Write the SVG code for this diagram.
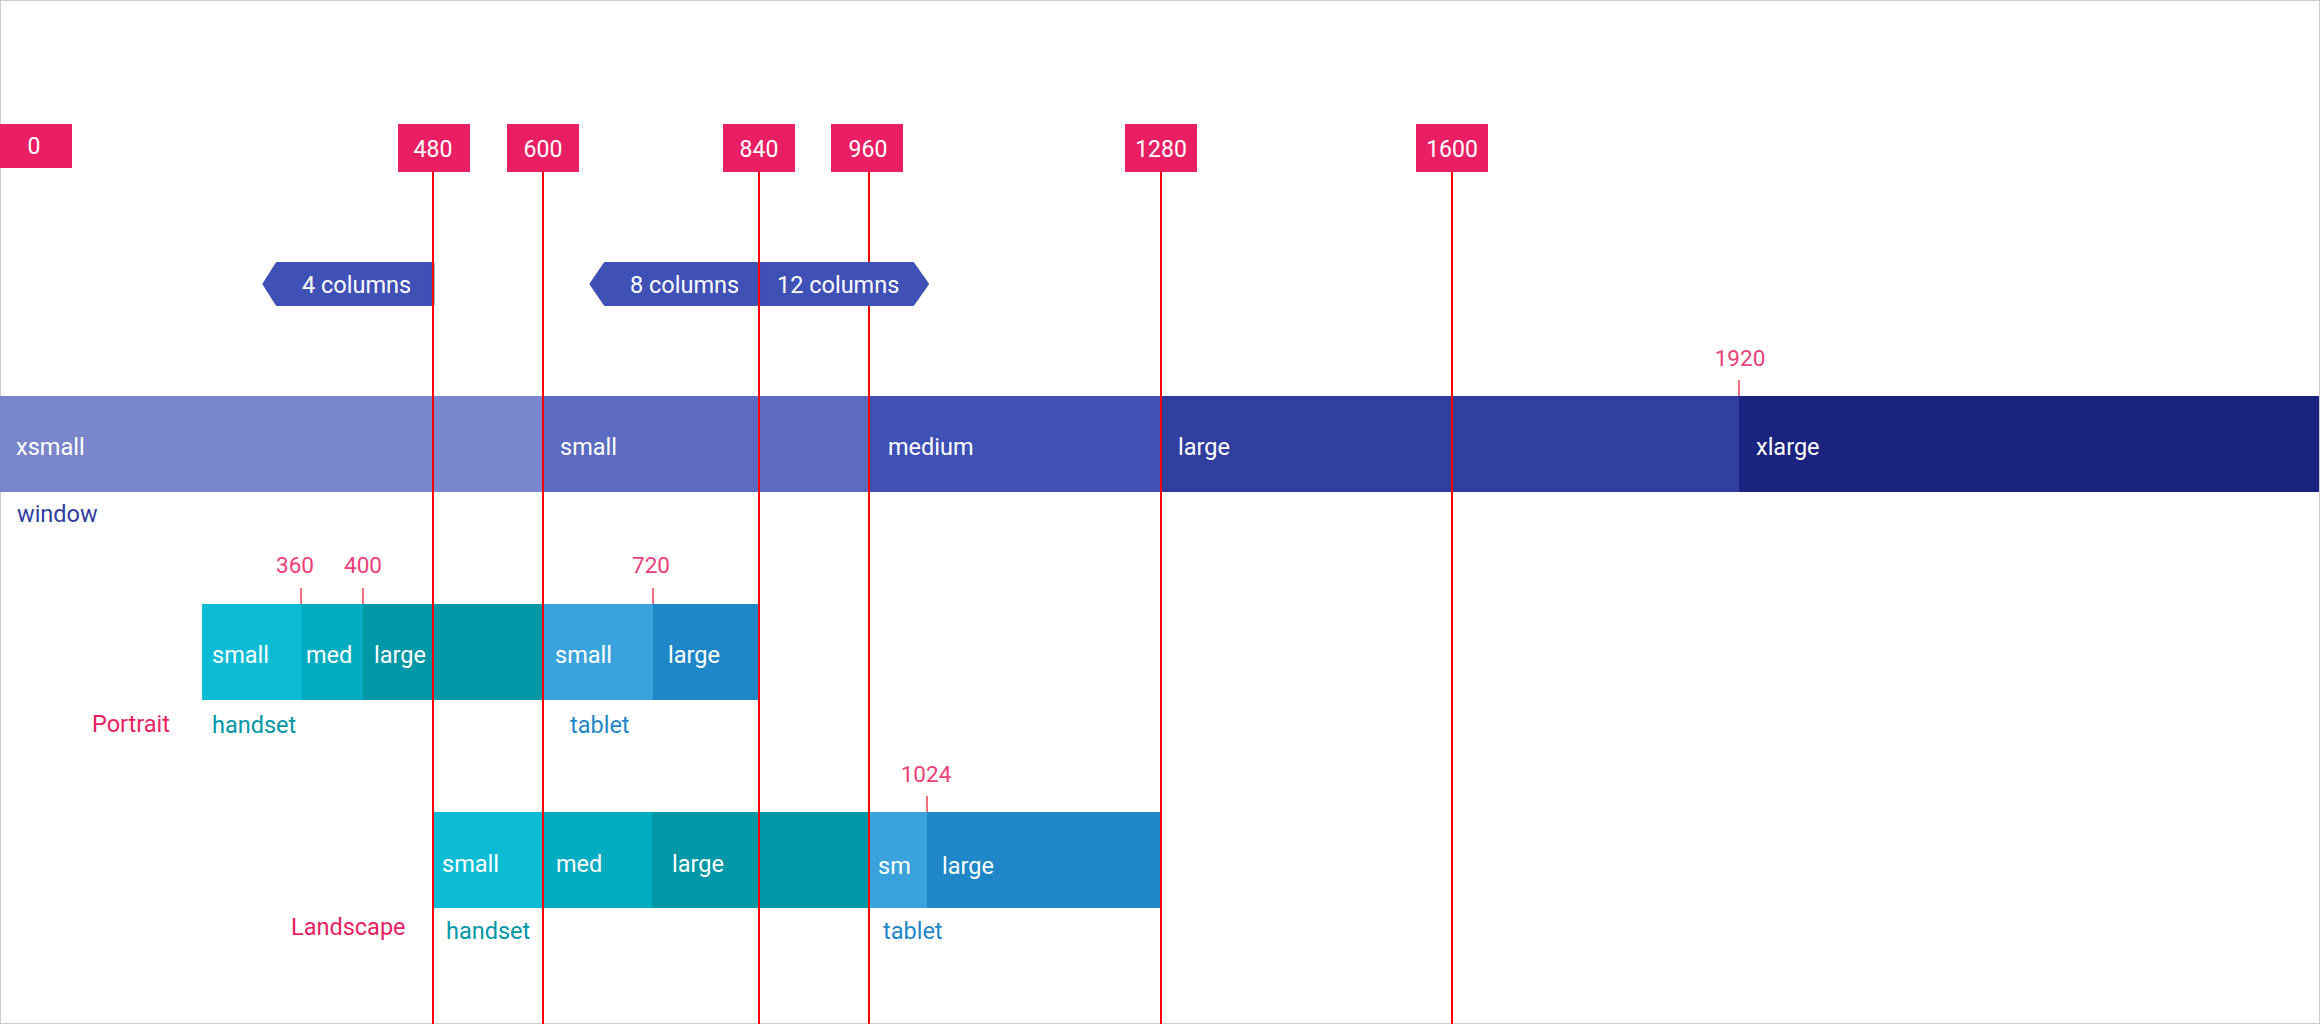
<svg xmlns="http://www.w3.org/2000/svg" width="2320" height="1024" viewBox="0 0 2320 1024">
<style>
text{font-family:Roboto,"Liberation Sans",sans-serif;font-size:23.5px}
.w{fill:#FFFFFF}
.num{fill:#FFFFFF;text-anchor:middle;font-size:23px}
.bp{fill:#E91E63}
.mk{fill:#EC407A;text-anchor:middle;font-size:22.5px}
.tick{stroke:#F26F7E;stroke-width:2}
.rl{stroke:#FF0000;stroke-width:2;fill:none}
.hex{fill:#3F51B5;stroke:#3F51B5;stroke-width:3;stroke-linejoin:round}
</style>
<rect x="0.5" y="0.5" width="2319" height="1023" fill="#FFFFFF" stroke="#CCCCCC" stroke-width="1"/>

<g id="bp-0"><rect class="bp" x="0" y="124" width="72" height="44"/><text class="num" x="34" y="154">0</text></g>
<g id="bp-480"><rect class="bp" x="398" y="124" width="72" height="48"/><text class="num" x="433" y="157">480</text></g>
<g id="bp-600"><rect class="bp" x="507" y="124" width="72" height="48"/><text class="num" x="543" y="157">600</text></g>
<g id="bp-840"><rect class="bp" x="723" y="124" width="72" height="48"/><text class="num" x="759" y="157">840</text></g>
<g id="bp-960"><rect class="bp" x="831" y="124" width="72" height="48"/><text class="num" x="868" y="157">960</text></g>
<g id="bp-1280"><rect class="bp" x="1125" y="124" width="72" height="48"/><text class="num" x="1161" y="157">1280</text></g>
<g id="bp-1600"><rect class="bp" x="1416" y="124" width="72" height="48"/><text class="num" x="1452" y="157">1600</text></g>

<g id="cols-4"><path class="hex" d="M264,284 L277,263.5 L433,263.5 L433,304.5 L277,304.5 Z"/><text class="w" x="302" y="292.5">4 columns</text></g>
<g id="cols-8"><path class="hex" d="M591,284 L605,263.5 L759,263.5 L759,304.5 L605,304.5 Z"/><text class="w" x="630" y="292.5">8 columns</text></g>
<g id="cols-12"><path class="hex" d="M759,263.5 L913,263.5 L927.5,284 L913,304.5 L759,304.5 Z"/><text class="w" x="777" y="292.5">12 columns</text></g>

<g id="window">
<rect x="0" y="396" width="543" height="96" fill="#7986CB"/>
<rect x="543" y="396" width="326" height="96" fill="#5C6BC0"/>
<rect x="869" y="396" width="292" height="96" fill="#3F51B5"/>
<rect x="1161" y="396" width="578" height="96" fill="#303F9F"/>
<rect x="1739" y="396" width="580" height="96" fill="#1A237E"/>
<text class="w" x="16" y="455">xsmall</text>
<text class="w" x="560" y="455">small</text>
<text class="w" x="888" y="455">medium</text>
<text class="w" x="1178" y="455">large</text>
<text class="w" x="1756" y="455">xlarge</text>
<line class="tick" x1="1739" y1="380" x2="1739" y2="396"/>
<text class="mk" x="1740" y="366">1920</text>
<text x="17" y="522" fill="#303F9F">window</text>
</g>

<g id="portrait">
<rect x="202" y="604" width="99" height="96" fill="#0BBCD4"/>
<rect x="301" y="604" width="62" height="96" fill="#03ACC1"/>
<rect x="363" y="604" width="180" height="96" fill="#0097A7"/>
<rect x="543" y="604" width="110" height="96" fill="#3BA3DC"/>
<rect x="653" y="604" width="106" height="96" fill="#1F87C7"/>
<text class="w" x="212" y="663">small</text>
<text class="w" x="306" y="663">med</text>
<text class="w" x="374" y="663">large</text>
<text class="w" x="555" y="663">small</text>
<text class="w" x="668" y="663">large</text>
<line class="tick" x1="301" y1="588" x2="301" y2="604"/>
<line class="tick" x1="363" y1="588" x2="363" y2="604"/>
<line class="tick" x1="653" y1="588" x2="653" y2="604"/>
<text class="mk" x="295" y="573">360</text>
<text class="mk" x="363" y="573">400</text>
<text class="mk" x="651" y="573">720</text>
<text x="92" y="732" fill="#E91E63">Portrait</text>
<text x="212" y="733" fill="#0097A7">handset</text>
<text x="570" y="733" fill="#1F87C7">tablet</text>
</g>

<g id="landscape">
<rect x="433" y="812" width="110" height="96" fill="#0BBCD4"/>
<rect x="543" y="812" width="109" height="96" fill="#03ACC1"/>
<rect x="652" y="812" width="217" height="96" fill="#0097A7"/>
<rect x="869" y="812" width="58" height="96" fill="#3BA3DC"/>
<rect x="927" y="812" width="234" height="96" fill="#1F87C7"/>
<text class="w" x="442" y="872">small</text>
<text class="w" x="556" y="872">med</text>
<text class="w" x="672" y="872">large</text>
<text class="w" x="878" y="874">sm</text>
<text class="w" x="942" y="874">large</text>
<line class="tick" x1="927" y1="796" x2="927" y2="812"/>
<text class="mk" x="926" y="782">1024</text>
<text x="291" y="935" fill="#E91E63">Landscape</text>
<text x="446" y="939" fill="#0097A7">handset</text>
<text x="883" y="939" fill="#1F87C7">tablet</text>
</g>

<g id="connectors">
<line class="rl" x1="433" y1="172" x2="433" y2="1024"/>
<line class="rl" x1="543" y1="172" x2="543" y2="1024"/>
<line class="rl" x1="759" y1="172" x2="759" y2="1024"/>
<line class="rl" x1="869" y1="172" x2="869" y2="262"/>
<line class="rl" x1="869" y1="306" x2="869" y2="1024"/>
<line class="rl" x1="1161" y1="172" x2="1161" y2="1024"/>
<line class="rl" x1="1452" y1="172" x2="1452" y2="1024"/>
</g>
</svg>
